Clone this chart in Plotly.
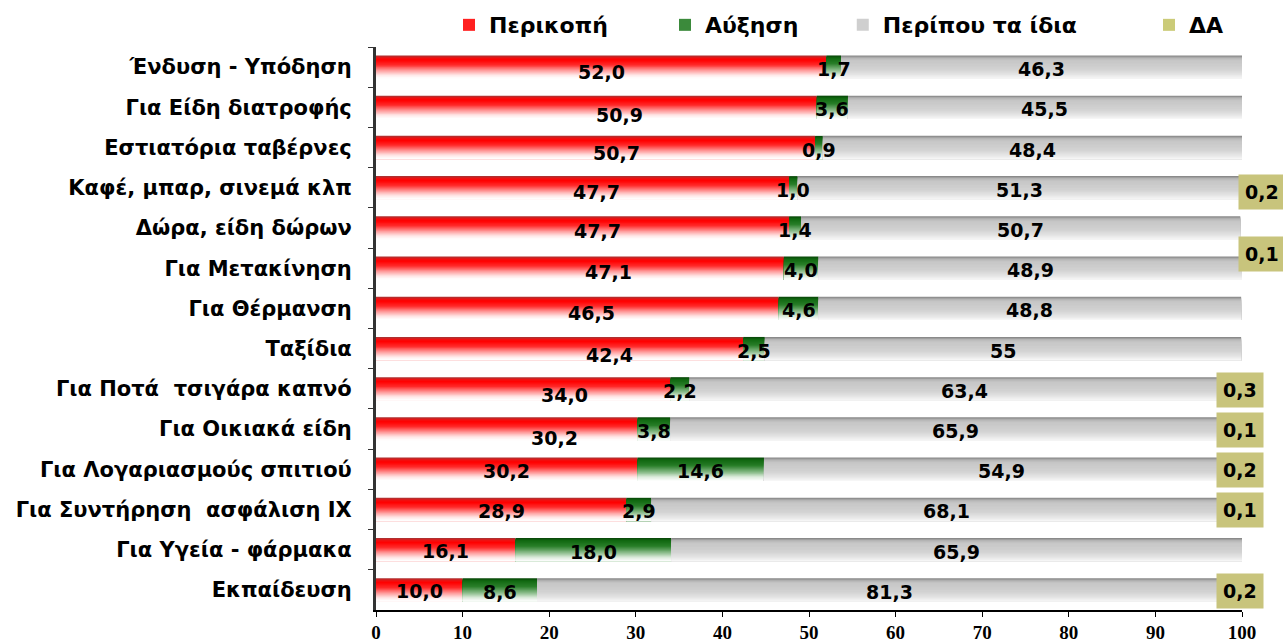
import plotly.graph_objects as go

# ---------------- data ----------------
cats = ["Ένδυση - Υπόδηση", "Για Είδη διατροφής", "Εστιατόρια ταβέρνες",
        "Καφέ, μπαρ, σινεμά κλπ", "Δώρα, είδη δώρων", "Για Μετακίνηση",
        "Για Θέρμανση", "Ταξίδια", "Για Ποτά  τσιγάρα καπνό", "Για Οικιακά είδη",
        "Για Λογαριασμούς σπιτιού", "Για Συντήρηση  ασφάλιση ΙΧ",
        "Για Υγεία - φάρμακα", "Εκπαίδευση"]
cut = [52.0, 50.9, 50.7, 47.7, 47.7, 47.1, 46.5, 42.4, 34.0, 30.2, 30.2, 28.9, 16.1, 10.0]
inc = [1.7, 3.6, 0.9, 1.0, 1.4, 4.0, 4.6, 2.5, 2.2, 3.8, 14.6, 2.9, 18.0, 8.6]
same = [46.3, 45.5, 48.4, 51.3, 50.7, 48.9, 48.8, 55, 63.4, 65.9, 54.9, 68.1, 65.9, 81.3]
da = [None, None, None, 0.2, None, 0.1, None, None, 0.3, 0.1, 0.2, 0.1, None, 0.2]

series_names = ["Περικοπή", "Αύξηση", "Περίπου τα ίδια", "ΔΑ"]
x_ticks = [0, 10, 20, 30, 40, 50, 60, 70, 80, 90, 100]

# label nudges in pixels (layout only, as placed in the original chart)
cut_label_dx = [0, 23, 21, 14, 15, 29, 14, 50, 41, 48, 0, 0, 0, 0]
cut_label_dy = [4, 7, 4, 3, 2, 3, 4, 5, 5, 8, 1, 1, 0, 0]
da_label_dx = [0, 0, 0, 22, 0, 22, 0, 0, 0, 0, 0, 0, 0, 0]
da_label_dy = [0, 0, 0, 4, 0, -14, 0, 0, 1, 1, 1, 1, 0, 1]


def fmt(v):
    if v is None:
        return ""
    if isinstance(v, int):
        return str(v)
    return f"{v:.1f}".replace(".", ",")


def hex2rgb(h):
    return [int(h[i:i + 2], 16) for i in (1, 3, 5)]


def grad(stops, t):
    for (p0, c0), (p1, c1) in zip(stops[:-1], stops[1:]):
        if t <= p1:
            u = 0 if p1 == p0 else (t - p0) / (p1 - p0)
            a, b = hex2rgb(c0), hex2rgb(c1)
            return "rgb(%d,%d,%d)" % tuple(round(a[k] + (b[k] - a[k]) * u) for k in range(3))
    return stops[-1][1]


bases_inc = list(cut)
bases_same = [c + i for c, i in zip(cut, inc)]
bases_da = [c + i + s for c, i, s in zip(cut, inc, same)]

red_stops = [(0, "#b03030"), (0.09, "#f01010"), (0.18, "#ff0000"), (0.4, "#ff2a2a"),
             (0.65, "#ff9c9c"), (0.85, "#ffe6e6"), (1, "#ffffff")]
green_stops = [(0, "#0a4a0a"), (0.09, "#106810"), (0.35, "#2a7f2a"),
               (0.65, "#8fbf8f"), (0.85, "#deecde"), (1, "#fbfdfb")]
gray_stops = [(0, "#8a8a8a"), (0.09, "#b4b4b4"), (0.2, "#c6c6c6"),
              (0.6, "#d2d2d2"), (0.85, "#e6e6e6"), (1, "#f6f6f6")]
da_stops = [(0, "#34341c"), (0.5, "#a9a862"), (1, "#ffff99")]

series = [
    (cut, [0] * len(cut), red_stops, 0.35),
    (inc, bases_inc, green_stops, 0.4),
    (same, bases_same, gray_stops, 0.5),
    (da, bases_da, da_stops, 0.7),
]

N = 24
H = 0.58
bw = H / N

fig = go.Figure()
legend_ids = ["legend", "legend2", "legend3", "legend4"]
for si, (vals, bases, stops, lt) in enumerate(series):
    for b in range(N):
        col = grad(stops, b / (N - 1))
        fig.add_trace(go.Bar(
            y=cats, x=vals, base=bases, orientation="h",
            width=H - b * bw, offset=-H / 2 + b * bw,
            marker=dict(color=col, line=dict(width=0)),
            name=series_names[si], legendgroup=series_names[si],
            showlegend=False, hoverinfo="skip",
        ))
    # legend entry
    fig.add_trace(go.Bar(
        y=[None], x=[None], orientation="h",
        marker=dict(color=grad(stops, lt), line=dict(width=0)),
        name=series_names[si], legendgroup=series_names[si],
        showlegend=True, legend=legend_ids[si], hoverinfo="skip",
    ))

label_font = dict(family="DejaVu Sans", size=19, color="black", weight="bold")
annotations = []
for k, (c, v) in enumerate(zip(cats, cut)):
    annotations.append(dict(
        x=v / 2, y=c, text=fmt(v), showarrow=False,
        xshift=cut_label_dx[k], yshift=-cut_label_dy[k] - 1, font=label_font,
    ))
for vals, bases in ((inc, bases_inc), (same, bases_same)):
    for c, v, b in zip(cats, vals, bases):
        annotations.append(dict(
            x=b + v / 2, y=c, text=fmt(v), showarrow=False, yshift=-2,
            font=label_font,
        ))
for k, (c, v) in enumerate(zip(cats, da)):
    if v is None:
        continue
    annotations.append(dict(
        x=100, y=c, text=fmt(v), showarrow=False,
        xshift=-2 + da_label_dx[k], yshift=-da_label_dy[k],
        font=label_font, bgcolor="#c8c47c", borderpad=6,
    ))

leg_x = [0.0843, 0.3337, 0.539, 0.8926]
layout_legends = {}
for lid, lx in zip(legend_ids, leg_x):
    layout_legends[lid] = dict(
        x=lx, y=1.039, xanchor="left", yanchor="middle", orientation="h",
        font=dict(family="DejaVu Sans", size=22, color="black", weight="bold"),
        bgcolor="rgba(0,0,0,0)", itemclick=False, itemdoubleclick=False,
    )

fig.update_layout(
    width=1283, height=642,
    margin=dict(l=376, r=41, t=47, b=32, autoexpand=False),
    barmode="overlay",
    plot_bgcolor="white", paper_bgcolor="white",
    annotations=annotations,
    **layout_legends,
)
fig.update_xaxes(
    range=[0, 100], tickvals=x_ticks, showgrid=False, zeroline=False,
    showline=True, linecolor="black", linewidth=1.5,
    ticks="outside", ticklen=5, tickcolor="black", ticklabelstandoff=0,
    tickfont=dict(family="Liberation Serif", size=19, color="black", weight="bold"),
)
fig.update_yaxes(
    categoryorder="array", categoryarray=cats, autorange="reversed",
    showgrid=False, zeroline=False, showline=True, linecolor="#333333", linewidth=3,
    ticks="outside", ticklen=5, tickcolor="#333333", tickson="boundaries",
    ticklabelstandoff=17,
    tickfont=dict(family="DejaVu Sans", size=21, color="black", weight="bold"),
)

fig.write_html(
    "out.html",
    config={"displayModeBar": False, "staticPlot": True},
    post_script="document.body.style.margin='0px';document.body.style.padding='0px';"
                "document.documentElement.style.overflow='hidden';",
)
